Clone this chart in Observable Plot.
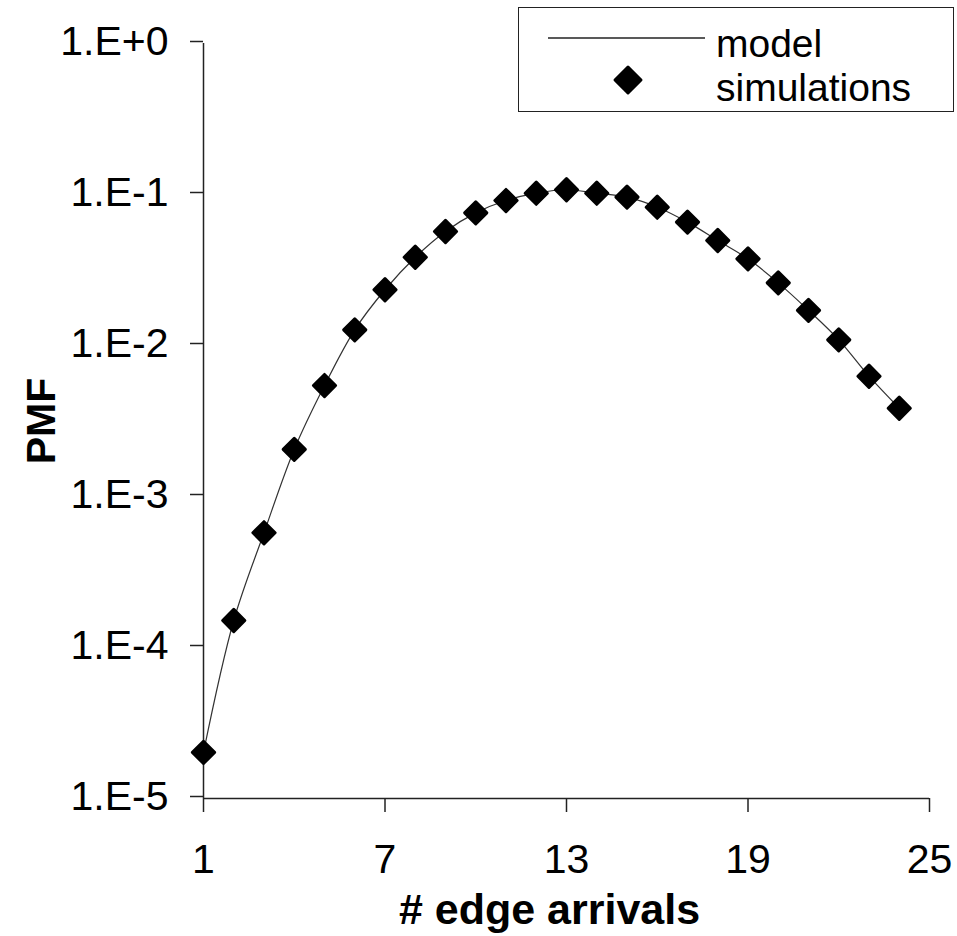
<!DOCTYPE html>
<html>
<head>
<meta charset="utf-8">
<script src="https://cdn.jsdelivr.net/npm/d3@7"></script>
<script src="https://cdn.jsdelivr.net/npm/@observablehq/plot@0.6"></script>
<style>
  html, body { margin: 0; padding: 0; background: #fff; }
  #wrap { position: relative; width: 957px; height: 936px; font-family: "Liberation Sans", Arial, sans-serif; }
  #legend { position: absolute; left: 518px; top: 7px; width: 434px; height: 103px; border: 1.5px solid #222; background: #fff; }
</style>
</head>
<body>
<div id="wrap"></div>
<script>
// Data
const arrivals = [1, 2, 3, 4, 5, 6, 7, 8, 9, 10, 11, 12, 13, 14, 15, 16, 17, 18, 19, 20, 21, 22, 23, 24];
const simulations = [2.02e-5, 1.51e-4, 5.75e-4, 2.05e-3, 5.43e-3, 0.0127, 0.0234, 0.0384, 0.0569, 0.0756, 0.0912, 0.102,
  0.1075, 0.102, 0.096, 0.0824, 0.0656, 0.0496, 0.0375, 0.0260, 0.0171, 0.0109, 0.00626, 0.00384];
const model = [2.02e-5, 1.51e-4, 5.75e-4, 2.05e-3, 5.43e-3, 0.0127, 0.0234, 0.0384, 0.0569, 0.0756, 0.0912, 0.102,
  0.1075, 0.102, 0.096, 0.0824, 0.0656, 0.0496, 0.0375, 0.0260, 0.0171, 0.0109, 0.00626, 0.00384];
const xTicks = [1, 7, 13, 19, 25];
const yTicks = [1, 1e-1, 1e-2, 1e-3, 1e-4, 1e-5];
const yTickLabels = ["1.E+0", "1.E-1", "1.E-2", "1.E-3", "1.E-4", "1.E-5"];
const xLabel = "# edge arrivals";
const yLabel = "PMF";
const legendLabels = ["model", "simulations"];

const simData = arrivals.map((k, i) => ({k, v: simulations[i]}));
const modelData = arrivals.map((k, i) => ({k, v: model[i]}));
const yLabelMap = new Map(yTicks.map((t, i) => [t, yTickLabels[i]]));

const FONT = "'Liberation Sans', Arial, sans-serif";

const chart = Plot.plot({
  width: 957,
  height: 936,
  marginLeft: 203,
  marginRight: 28,
  marginTop: 43,
  marginBottom: 138,
  style: {fontFamily: FONT, fontSize: "41px", color: "#000", background: "#fff", overflow: "visible"},
  x: {domain: [1, 25], axis: null},
  y: {type: "log", domain: [1e-5, 1], axis: null},
  marks: [
    Plot.axisY(yTicks, {
      tickSize: 13, tickPadding: 22, strokeWidth: 1.5, stroke: "#222",
      tickFormat: d => yLabelMap.get(d), fontSize: 41, dy: -2, label: null
    }),
    Plot.axisX(xTicks, {
      tickSize: 14, tickPadding: 31, strokeWidth: 1.5, stroke: "#222",
      tickFormat: d => String(d), fontSize: 41, label: null
    }),
    Plot.ruleX([1], {stroke: "#222", strokeWidth: 1.5}),
    Plot.ruleY([1e-5], {stroke: "#222", strokeWidth: 1.5}),
    Plot.line(modelData, {x: "k", y: "v", curve: "catmull-rom", stroke: "#333", strokeWidth: 1.2}),
    Plot.dot(simData, {x: "k", y: "v", symbol: "diamond2", r: 10, fill: "#000", stroke: "#000",
      strokeWidth: 3, strokeLinejoin: "round"}),
    Plot.text([yLabel], {frameAnchor: "left", textAnchor: "middle", lineAnchor: "middle", rotate: -90, dx: -162,
      fontWeight: "bold", fontSize: 41, fill: "#000"}),
    Plot.text([xLabel], {frameAnchor: "bottom", textAnchor: "middle", lineAnchor: "middle", dx: -17, dy: 112,
      fontWeight: "bold", fontSize: 43, fill: "#000"})
  ]
});

const wrap = document.getElementById("wrap");
wrap.appendChild(chart);

// Legend overlay
const legend = document.createElement("div");
legend.id = "legend";
legend.innerHTML = `
<svg width="434" height="103" style="position:absolute;left:0;top:0;overflow:visible">
  <line x1="29" x2="186" y1="30" y2="30" stroke="#222" stroke-width="1.3"></line>
  <polygon points="109,59 122,72 109,85 96,72" fill="#000" stroke="#000" stroke-width="3" stroke-linejoin="round"></polygon>
  <text x="197" y="49" font-family="${FONT}" font-size="39" fill="#000">${legendLabels[0]}</text>
  <text x="197" y="93" font-family="${FONT}" font-size="39" fill="#000">${legendLabels[1]}</text>
</svg>`;
wrap.appendChild(legend);
</script>
</body>
</html>
